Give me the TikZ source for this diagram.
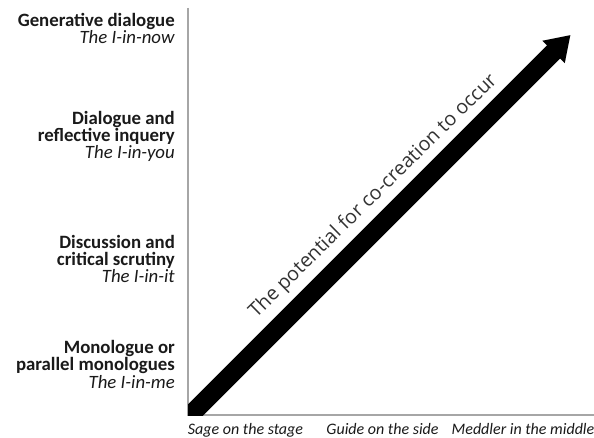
\documentclass[tikz,border=0pt]{standalone}
\usepackage{fontspec}
\setmainfont{Carlito}
\newfontfamily\slogan{Open Sans}
\usetikzlibrary{arrows.meta}
\definecolor{axisgray}{HTML}{A6A6A6}
\definecolor{labelink}{HTML}{1A1A1A}
\definecolor{slogink}{HTML}{333333}
\tikzset{
  axisline/.style={draw=axisgray, line width=1.2pt},
  % multi-line labels: the base anchor sits on the last line
  levellabel/.style={anchor=base east, align=right, text=labelink, inner sep=0pt,
    font=\fontsize{18.8}{17.2}\selectfont},
  rolelabel/.style={anchor=base, text=labelink, inner sep=0pt,
    font=\fontsize{16}{18}\selectfont\itshape},
  bigarrow/.style={line width=18.4pt, black,
    -{Triangle[length=24pt,width=30pt]}},
}
\begin{document}
\begin{tikzpicture}[x=1pt,y=-1pt]
  % page frame
  \useasboundingbox[fill=white] (0,0) rectangle (594,438);

  % axes
  \coordinate (origin) at (188,415);
  \coordinate (ytop) at (188,8);
  \coordinate (xend) at (594,415);
  \draw[axisline] (ytop) -- (origin) -- (xend);

  % the rising arrow, cut off at the axes
  \coordinate (tail) at (170,435.5);
  \coordinate (tip) at (570.5,35);
  \begin{scope}
    \clip (origin) rectangle (594,0);
    \draw[bigarrow] (tail) -- (tip);
  \end{scope}

  % caption along the arrow
  \node[rotate=44.5, text=slogink, inner sep=0pt,
        font=\slogan\fontsize{19.6}{22}\selectfont] (slogan) at (373.5,196.5)
        {The potential for co-creation to occur};

  % levels of conversation
  \node[levellabel] (gen) at (175,44)
    {\textbf{Generative dialogue}\\\textit{The I-in-now}};
  \node[levellabel] (dia) at (175,159)
    {\textbf{Dialogue and}\\\textbf{reflective inquery}\\\textit{The I-in-you}};
  \node[levellabel] (dis) at (175,283)
    {\textbf{Discussion and}\\\textbf{critical scrutiny}\\\textit{The I-in-it}};
  \node[levellabel] (mon) at (175,388)
    {\textbf{Monologue or}\\\textbf{parallel monologues}\\\textit{The I-in-me}};

  % teacher roles
  \node[rolelabel] (sage) at (245.5,434) {Sage on the stage};
  \node[rolelabel] (guide) at (382.5,434) {Guide on the side};
  \node[rolelabel] (meddler) at (523,434) {Meddler in the middle};
\end{tikzpicture}
\end{document}
